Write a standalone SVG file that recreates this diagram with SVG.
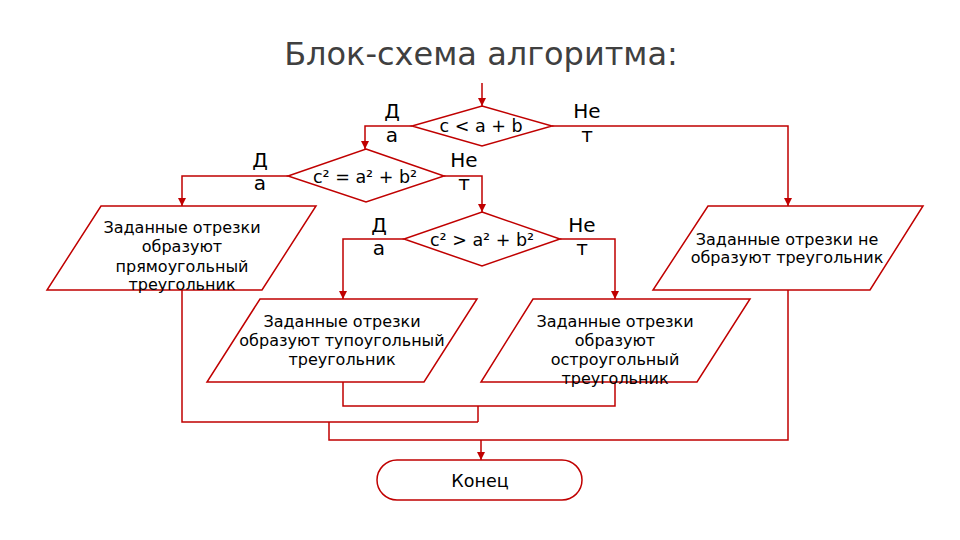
<svg xmlns="http://www.w3.org/2000/svg" width="960" height="540" viewBox="0 0 960 540">
<defs>
<style>
.s{fill:#fff;stroke:#c00000;stroke-width:1.5}
.c{fill:none;stroke:#c00000;stroke-width:1.5}
.t{font-family:"DejaVu Sans",sans-serif;font-size:16px;fill:#000;text-anchor:middle}
.d{font-family:"DejaVu Sans",sans-serif;font-size:17.5px;fill:#000;text-anchor:middle}
.l{font-family:"DejaVu Sans",sans-serif;font-size:20px;fill:#000;text-anchor:middle}
.ti{font-family:"DejaVu Sans",sans-serif;font-size:32px;fill:#404040;text-anchor:middle}
</style>
<marker id="ar" markerWidth="8" markerHeight="8" refX="8" refY="4" orient="auto" markerUnits="userSpaceOnUse">
<path d="M0,0 L8,4 L0,8 Z" fill="#c00000"/>
</marker>
</defs>
<rect width="960" height="540" fill="#fff"/>
<text class="ti" x="481" y="65">Блок-схема алгоритма:</text>
<g id="connectors">
<path class="c" d="M482,83 V106" marker-end="url(#ar)"/>
<path class="c" d="M412,126 H365 V149" marker-end="url(#ar)"/>
<path class="c" d="M552,126 H788 V206" marker-end="url(#ar)"/>
<path class="c" d="M288,176 H182 V206" marker-end="url(#ar)"/>
<path class="c" d="M444,176 H482 V212" marker-end="url(#ar)"/>
<path class="c" d="M404,239 H343 V299" marker-end="url(#ar)"/>
<path class="c" d="M560,239 H615 V299" marker-end="url(#ar)"/>
<path class="c" d="M343,382 V406 H615 V382"/>
<path class="c" d="M478,406 V422"/>
<path class="c" d="M182,290 V422 H478"/>
<path class="c" d="M329,422 V440 H788 V290"/>
<path class="c" d="M481,440 V460" marker-end="url(#ar)"/>
<text class="l" x="392" y="118">Д</text>
<text class="l" x="392" y="142">а</text>
<text class="l" x="587" y="118">Не</text>
<text class="l" x="587" y="142">т</text>
<text class="l" x="260" y="167">Д</text>
<text class="l" x="260" y="190">а</text>
<text class="l" x="464" y="167">Не</text>
<text class="l" x="464" y="190">т</text>
<text class="l" x="379" y="232">Д</text>
<text class="l" x="379" y="255">а</text>
<text class="l" x="582" y="232">Не</text>
<text class="l" x="582" y="255">т</text>
</g>
<g id="d1">
<polygon class="s" points="482,106 552,126 482,146 412,126"/>
<text class="d" x="481" y="132">c &lt; a + b</text>
</g>
<g id="d2">
<polygon class="s" points="366,149 444,176 366,202 288,176"/>
<text class="d" x="365" y="183">c² = a² + b²</text>
</g>
<g id="d3">
<polygon class="s" points="482,212 560,239 482,266 404,239"/>
<text class="d" x="482" y="246">c² &gt; a² + b²</text>
</g>
<g id="p1">
<polygon class="s" points="101,206 316,206 262,290 47,290"/>
<text class="t" x="182" y="233">Заданные отрезки</text>
<text class="t" x="182" y="252">образуют</text>
<text class="t" x="182" y="272">прямоугольный</text>
<text class="t" x="182" y="290">треугольник</text>
</g>
<g id="p4">
<polygon class="s" points="708,206 923,206 870,290 653,290"/>
<text class="t" x="787" y="245">Заданные отрезки не</text>
<text class="t" x="787" y="263">образуют треугольник</text>
</g>
<g id="p2">
<polygon class="s" points="260,299 477,299 424,382 207,382"/>
<text class="t" x="342" y="327">Заданные отрезки</text>
<text class="t" x="342" y="346">образуют тупоугольный</text>
<text class="t" x="342" y="365">треугольник</text>
</g>
<g id="p3">
<polygon class="s" points="533,299 750,299 697,382 481,382"/>
<text class="t" x="615" y="327">Заданные отрезки</text>
<text class="t" x="615" y="346">образуют</text>
<text class="t" x="615" y="365">остроугольный</text>
<text class="t" x="615" y="384">треугольник</text>
</g>
<g id="end">
<rect class="s" x="377" y="460" width="205" height="40" rx="20" ry="20"/>
<text class="d" x="480" y="487">Конец</text>
</g>
</svg>
